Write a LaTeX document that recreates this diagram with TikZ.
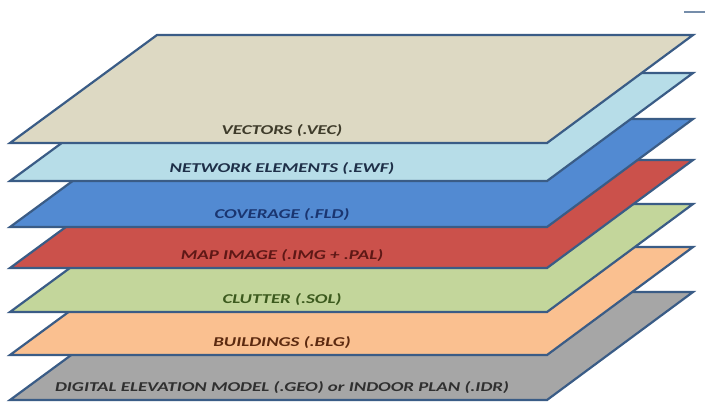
\documentclass[tikz,border=0pt]{standalone}
\usepackage{fontspec}
\setmainfont{Carlito}
\definecolor{edge}{HTML}{3A5C86}
\definecolor{vecfill}{HTML}{DDD9C3}
\definecolor{ewffill}{HTML}{B7DDE8}
\definecolor{fldfill}{HTML}{528AD2}
\definecolor{imgfill}{HTML}{CB514B}
\definecolor{solfill}{HTML}{C3D69B}
\definecolor{blgfill}{HTML}{FAC090}
\definecolor{geofill}{HTML}{A6A6A6}
\definecolor{vectxt}{HTML}{3E3B2A}
\definecolor{ewftxt}{HTML}{1E2F48}
\definecolor{fldtxt}{HTML}{1A3570}
\definecolor{imgtxt}{HTML}{5E1816}
\definecolor{soltxt}{HTML}{3C5A1E}
\definecolor{blgtxt}{HTML}{5C2A10}
\definecolor{geotxt}{HTML}{303030}
\tikzset{
  layer/.style={draw=edge, line width=2.2pt, line join=miter},
  layerlabel/.style={font=\bfseries\itshape\fontsize{13.5}{15}\selectfont, anchor=center,
    inner sep=0pt, xscale=1.4}
}
% one sheet of the stack: #1 = bottom edge y, #2 = fill, #3 = text colour, #4 = name, #5 = label
\newcommand\stacksheet[5]{%
  \path[layer, fill=#2] (10,#1) -- (547,#1) -- (693,#1-108) -- (157,#1-108) -- cycle;
  \node[layerlabel, text=#3] (#4) at (282,#1-12.5) {#5};
}
\begin{document}
\begin{tikzpicture}[x=1pt,y=-1pt]
  \useasboundingbox (0,0) rectangle (705,413);
  \fill[white] (0,0) rectangle (705,413);
  \stacksheet{400}{geofill}{geotxt}{geo}{DIGITAL ELEVATION MODEL (.GEO) or INDOOR PLAN (.IDR)}
  \stacksheet{355}{blgfill}{blgtxt}{blg}{BUILDINGS (.BLG)}
  \stacksheet{312}{solfill}{soltxt}{sol}{CLUTTER (.SOL)}
  \stacksheet{268}{imgfill}{imgtxt}{img}{MAP IMAGE (.IMG + .PAL)}
  \stacksheet{227}{fldfill}{fldtxt}{fld}{COVERAGE (.FLD)}
  \stacksheet{181}{ewffill}{ewftxt}{ewf}{NETWORK ELEMENTS (.EWF)}
  \stacksheet{143}{vecfill}{vectxt}{vec}{VECTORS (.VEC)}
  % short rule at the upper right corner
  \coordinate (ra) at (684,12);
  \coordinate (rb) at (705,12);
  \draw[edge!70, line width=1.5pt] (ra) -- (rb);
\end{tikzpicture}
\end{document}
